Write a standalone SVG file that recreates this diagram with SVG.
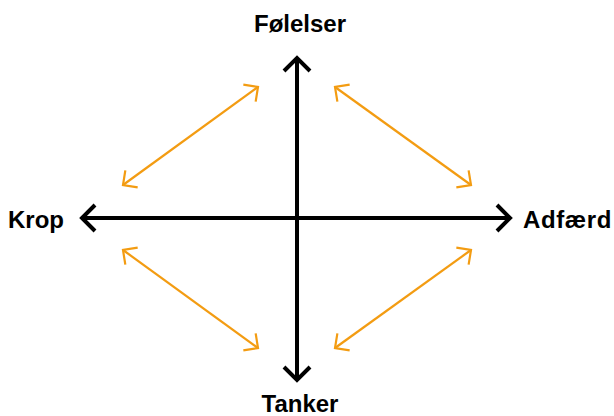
<svg xmlns="http://www.w3.org/2000/svg" width="614" height="416" viewBox="0 0 614 416">
  <defs>
    <style>
      .label { font-family: "Liberation Sans", Arial, sans-serif; font-weight: bold; font-size: 24px; fill: #000; }
      .axis { stroke: #000; stroke-width: 4; fill: none; }
      .link { stroke: #F39C12; stroke-width: 2.2; fill: none; }
    </style>
    <marker id="axisHead" markerUnits="userSpaceOnUse" viewBox="-16 -16 20 32" markerWidth="20" markerHeight="32" refX="0" refY="0" orient="auto-start-reverse">
      <path d="M-13,-13 L0,0 L-13,13" fill="none" stroke="#000" stroke-width="4"/>
    </marker>
    <marker id="linkHead" markerUnits="userSpaceOnUse" viewBox="-14 -12 16 24" markerWidth="16" markerHeight="24" refX="0" refY="0" orient="auto-start-reverse">
      <path d="M-10.5,-10.5 L0,0 L-10.5,10.5" fill="none" stroke="#F39C12" stroke-width="2.2"/>
    </marker>
  </defs>
  <rect width="614" height="416" fill="#fff"/>

  <g id="connectors">
    <!-- axes -->
    <line class="axis" x1="297" y1="380" x2="297" y2="58" marker-start="url(#axisHead)" marker-end="url(#axisHead)"/>
    <line class="axis" x1="82" y1="218" x2="510" y2="218" marker-start="url(#axisHead)" marker-end="url(#axisHead)"/>
    <!-- diagonal links -->
    <line class="link" x1="123" y1="185" x2="258" y2="87" marker-start="url(#linkHead)" marker-end="url(#linkHead)"/>
    <line class="link" x1="335" y1="87" x2="471" y2="185" marker-start="url(#linkHead)" marker-end="url(#linkHead)"/>
    <line class="link" x1="123" y1="250" x2="258" y2="348" marker-start="url(#linkHead)" marker-end="url(#linkHead)"/>
    <line class="link" x1="335" y1="348" x2="471" y2="250" marker-start="url(#linkHead)" marker-end="url(#linkHead)"/>
  </g>

  <g id="node-folelser">
    <text class="label" x="300" y="32" text-anchor="middle">Følelser</text>
  </g>
  <g id="node-krop">
    <text class="label" x="8" y="228">Krop</text>
  </g>
  <g id="node-adfaerd">
    <text class="label" x="523" y="228" letter-spacing="0.6">Adfærd</text>
  </g>
  <g id="node-tanker">
    <text class="label" x="300" y="412" text-anchor="middle">Tanker</text>
  </g>
</svg>
